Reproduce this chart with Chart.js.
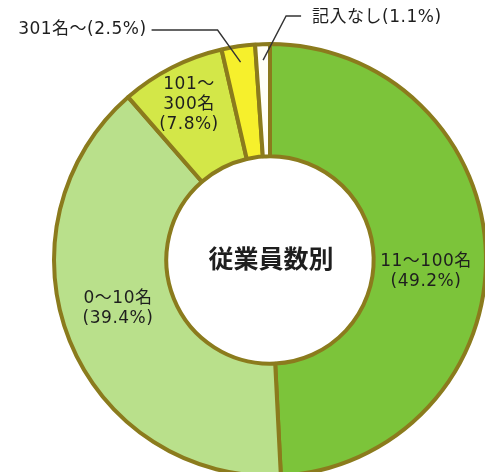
<!DOCTYPE html>
<html>
<head>
<meta charset="utf-8">
<script src="https://cdn.jsdelivr.net/npm/chart.js@4/dist/chart.umd.min.js"></script>
<style>
  html, body { margin: 0; padding: 0; background: #fff; overflow: hidden; }
  #wrap { width: 485px; height: 472px; overflow: hidden; position: relative; }
  canvas { position: absolute; left: 0; top: 0; }
</style>
</head>
<body>
<div id="wrap"><canvas id="myChart" width="560" height="520"></canvas></div>
<script>
const categories = ['11～100名', '0～10名', '101～300名', '301名～', '記入なし'];
const shares = [49.2, 39.4, 7.8, 2.5, 1.1];
const sliceColors = ['#7cc43a', '#b9e08b', '#d3e748', '#f6f02c', '#fffff6'];
const centerTitle = '従業員数別';

// inner labels, offset from the doughnut centre
const innerLabels = [
    { idx: 0, lines: ['11～100名', '(49.2%)'], dx: 156, dy: 12 },
    { idx: 1, lines: ['0～10名', '(39.4%)'], dx: -152, dy: 49 },
    { idx: 2, lines: ['101～', '300名', '(7.8%)'], dx: -81, dy: -155 }
];
const outerLabels = [
    { idx: 3, text: '301名～(2.5%)', side: 'left' },
    { idx: 4, text: '記入なし(1.1%)', side: 'right' }
];

const font = '"DejaVu Sans", "Noto Sans CJK JP", sans-serif';
const titleFont = '"Noto Sans CJK JP", sans-serif';

const labelPlugin = {
    id: 'labelPlugin',
    afterDatasetsDraw(chart) {
        const ctx = chart.ctx;
        const arcs = chart.getDatasetMeta(0).data;
        const cx = arcs[0].x, cy = arcs[0].y;
        ctx.save();
        ctx.fillStyle = '#1e1e1e';
        ctx.textAlign = 'center';
        ctx.textBaseline = 'middle';

        ctx.font = 'bold 25px ' + titleFont;
        ctx.fillText(centerTitle, cx + 1, cy - 2);

        ctx.font = '17px ' + font;
        ctx.letterSpacing = '0.5px';
        innerLabels.forEach(l => {
            const n = l.lines.length;
            l.lines.forEach((t, i) => {
                ctx.fillText(t, cx + l.dx, cy + l.dy + (i - (n - 1) / 2) * 20);
            });
        });

        ctx.strokeStyle = '#333';
        ctx.lineWidth = 1.4;
        outerLabels.forEach(l => {
            const a = arcs[l.idx];
            const mid = (a.startAngle + a.endAngle) / 2;
            const r = a.outerRadius - 16;
            const px = cx + Math.cos(mid) * r;
            const py = cy + Math.sin(mid) * r;
            ctx.beginPath();
            if (l.side === 'left') {
                const ky = cy - 230;
                ctx.moveTo(px, py);
                ctx.lineTo(px - 23, ky);
                ctx.lineTo(px - 89, ky);
                ctx.stroke();
                ctx.textAlign = 'right';
                ctx.fillText(l.text, px - 94, ky);
            } else {
                const ky = cy - 244;
                ctx.moveTo(px, py);
                ctx.lineTo(px + 23, ky);
                ctx.lineTo(px + 38, ky);
                ctx.stroke();
                ctx.textAlign = 'left';
                ctx.fillText(l.text, px + 49, ky + 2);
            }
        });
        ctx.restore();
    }
};

const ctx = document.getElementById('myChart').getContext('2d');
new Chart(ctx, {
    type: 'doughnut',
    data: {
        labels: categories,
        datasets: [{
            data: shares,
            backgroundColor: sliceColors,
            borderColor: '#8b7b1d',
            borderWidth: 4
        }]
    },
    options: {
        responsive: false,
        animation: false,
        cutout: '48%',
        layout: { padding: { left: 52, right: 72, top: 42, bottom: 42 } },
        plugins: {
            legend: { display: false },
            tooltip: { enabled: false }
        }
    },
    plugins: [labelPlugin]
});
</script>
</body>
</html>
